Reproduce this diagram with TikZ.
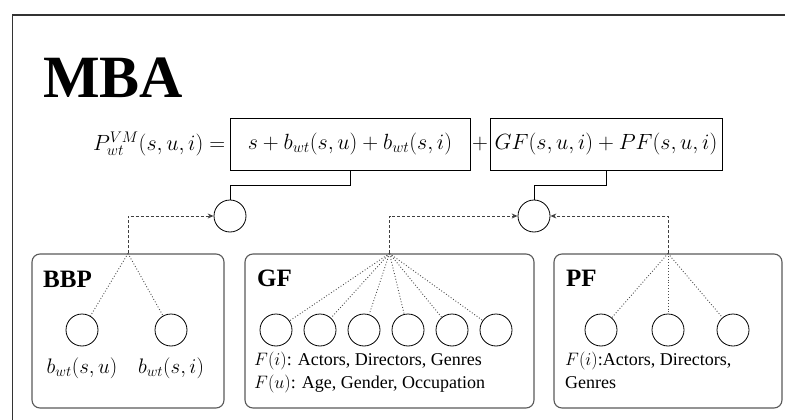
\RequirePackage{fix-cm}
\documentclass[tikz,border=0pt]{standalone}
\usepackage{fontspec}
\setmainfont{Liberation Serif}
\usetikzlibrary{positioning}
\usetikzlibrary{arrows.meta}

\begin{document}
\begin{tikzpicture}
    [
    x=1pt, y=-1pt,
    unit/.style={draw, circle, minimum size=32pt, inner sep=0pt, line width=0.8pt},
    group/.style={draw=black!65, rounded corners=8pt, line width=1.1pt, inner sep=0pt},
    eqbox/.style={draw, line width=1pt, minimum height=52pt, inner sep=0pt, font=\fontsize{22}{27}\selectfont},
    title/.style={font=\fontsize{25}{25}\selectfont\bfseries, inner sep=0pt},
    txt/.style={font=\fontsize{18}{23}\selectfont, align=left, inner sep=0pt},
    lbl/.style={font=\fontsize{21}{24}\selectfont, inner sep=0pt},
    feed/.style={draw=black!75, line width=0.9pt, dash pattern=on 3pt off 2pt, -{Stealth[length=6pt,width=5pt]}},
    tie/.style={draw=black!70, line width=0.9pt, dotted},
    link/.style={draw, line width=1pt},
    ]

    \useasboundingbox (0,0) rectangle (785,420);
    \draw[line width=1.2pt, black!80] (12.5,420) -- (12.5,15) -- (785,15);

    \node[anchor=base west, inner sep=0pt, font=\fontsize{60}{60}\selectfont\bfseries] (mba) at (43,97) {MBA};

    % equation
    \node[eqbox, minimum width=240pt] (eqa) at (350,144) {$s+b_{wt}(s,u)+b_{wt}(s,i)$};
    \node[eqbox, minimum width=232pt] (eqb) at (606,144) {$GF(s,u,i)+PF(s,u,i)$};
    \node[left=4pt of eqa, inner sep=0pt, font=\fontsize{22}{26}\selectfont] (lhs) {$P^{VM}_{wt}(s,u,i)=$};
    \node[inner sep=0pt, font=\fontsize{22}{26}\selectfont] (plus) at (480,144) {$+$};

    % sum units
    \node[unit] (suma) at (230,216) {};
    \node[unit] (sumb) at (534,216) {};
    \draw[link] (eqa.south) -- ++(0,15) -| (suma.north);
    \draw[link] (eqb.south) -- ++(0,15) -| (sumb.north);

    % groups
    \node[group, minimum width=192pt, minimum height=154pt] (bbp) at (128,331) {};
    \node[group, minimum width=289pt, minimum height=154pt] (gf) at (389.5,331) {};
    \node[group, minimum width=228pt, minimum height=154pt] (pf) at (668,331) {};

    \node[title, anchor=base west] at (43,287) {BBP};
    \node[title, anchor=base west] at (257,286) {GF};
    \node[title, anchor=base west] at (566,286) {PF};

    % BBP
    \node[unit] (b1) at (82,330) {};
    \node[unit] (b2) at (171,330) {};
    \node[lbl, below=11pt of b1] {$b_{wt}(s,u)$};
    \node[lbl, below=11pt of b2] {$b_{wt}(s,i)$};
    \foreach \i in {1,2} \draw[tie] (bbp.north) -- (b\i);

    % GF
    \foreach \i in {1,...,6} {
        \node[unit] (g\i) at ({232+44*\i},330) {};
        \draw[tie] (gf.north) -- (g\i);
    }
    \node[txt, anchor=north west] at (254,352) {$F(i)$: Actors, Directors, Genres\\$F(u)$: Age, Gender, Occupation};

    % PF
    \foreach \i/\x in {1/601,2/668,3/733} {
        \node[unit] (p\i) at (\x,330) {};
        \draw[tie] (pf.north) -- (p\i);
    }
    \node[txt, anchor=north west] at (565,352) {$F(i)$:Actors, Directors,\\Genres};

    % feeds
    \draw[feed] (bbp.north) |- (suma);
    \draw[feed] (gf.north) |- (sumb);
    \draw[feed] (pf.north) |- (sumb);
\end{tikzpicture}
\end{document}
